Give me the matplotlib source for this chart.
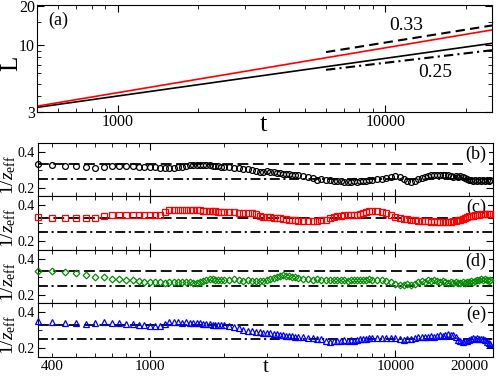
#!/usr/bin/env python3
import matplotlib
matplotlib.use("Agg")
import matplotlib.pyplot as plt
import numpy as np
from matplotlib.ticker import FixedLocator, FuncFormatter, NullFormatter

# ---- panel (a): L(t) on log-log axes
t_line = [500, 25000]
L_black = [3.26, 10.3]
L_red = [3.33, 13.1]
t_guide = [6000, 25000]
L_033 = [8.8, 14.2]
L_025 = [6.4, 9.1]

# ---- panels (b)-(e): effective exponent 1/z_eff vs t
t = np.concatenate([
    np.arange(350, 2001, 50),
    np.arange(2100, 4001, 100),
    np.arange(4200, 8001, 200),
    np.arange(8400, 24401, 400),
])

z_b = [0.330, 0.324, 0.321, 0.320, 0.315, 0.312, 0.313, 0.320, 0.321, 0.322,
       0.321, 0.318, 0.318, 0.317, 0.316, 0.312, 0.310, 0.311, 0.312, 0.314,
       0.318, 0.322, 0.326, 0.328, 0.327, 0.324, 0.325, 0.326, 0.324, 0.322,
       0.320, 0.319, 0.318, 0.317,
       0.316, 0.312, 0.307, 0.305, 0.302, 0.298, 0.293, 0.290, 0.289, 0.291,
       0.290, 0.286, 0.281, 0.279, 0.278, 0.276, 0.274, 0.272, 0.270, 0.268,
       0.265, 0.262, 0.252, 0.244, 0.247, 0.243, 0.240, 0.238, 0.236, 0.236,
       0.234, 0.233, 0.234, 0.235, 0.233, 0.236, 0.237, 0.238, 0.240, 0.242,
       0.246, 0.250, 0.255, 0.260, 0.264, 0.262, 0.250, 0.236, 0.232, 0.236,
       0.248, 0.256, 0.262, 0.266, 0.270, 0.272, 0.270, 0.273, 0.270, 0.272,
       0.268, 0.264, 0.262, 0.265, 0.262, 0.263, 0.258, 0.256, 0.250, 0.244,
       0.241, 0.238, 0.240, 0.237, 0.241, 0.238, 0.242, 0.239, 0.241, 0.238,
       0.240]

z_c = [0.334, 0.330, 0.330, 0.330, 0.330, 0.331, 0.343, 0.344, 0.345, 0.344,
       0.345, 0.345, 0.344, 0.345, 0.345, 0.348, 0.364, 0.372, 0.376, 0.376,
       0.374, 0.376, 0.373, 0.374, 0.372, 0.373, 0.370, 0.371, 0.369, 0.368,
       0.366, 0.365, 0.364, 0.363,
       0.362, 0.361, 0.360, 0.358, 0.357, 0.356, 0.352, 0.343, 0.336, 0.334,
       0.333, 0.331, 0.329, 0.327, 0.325, 0.322, 0.320, 0.318, 0.316, 0.315,
       0.313, 0.311, 0.312, 0.314, 0.316, 0.320, 0.327, 0.333, 0.340, 0.343,
       0.344, 0.345, 0.345, 0.346, 0.348, 0.352, 0.358, 0.363, 0.366, 0.368,
       0.368, 0.364, 0.356, 0.345, 0.337, 0.330, 0.325, 0.321, 0.318, 0.316,
       0.314, 0.312, 0.311, 0.310, 0.309, 0.310, 0.308, 0.307, 0.309, 0.308,
       0.307, 0.309, 0.311, 0.313, 0.316, 0.320, 0.326, 0.332, 0.337, 0.340,
       0.342, 0.343, 0.345, 0.346, 0.348, 0.349, 0.350, 0.351, 0.352, 0.352,
       0.353]

z_d = [0.334, 0.334, 0.327, 0.323, 0.312, 0.297, 0.296, 0.289, 0.286, 0.282,
       0.280, 0.276, 0.273, 0.270, 0.268, 0.268, 0.267, 0.269, 0.268, 0.270,
       0.271, 0.270, 0.268, 0.266, 0.264, 0.270, 0.278, 0.284, 0.288, 0.286,
       0.284, 0.282, 0.279, 0.281,
       0.282, 0.285, 0.280, 0.276, 0.279, 0.274, 0.277, 0.274, 0.276, 0.281,
       0.287, 0.294, 0.300, 0.305, 0.308, 0.304, 0.306, 0.300, 0.297, 0.293,
       0.290, 0.287, 0.284, 0.288, 0.283, 0.280, 0.283, 0.279, 0.282, 0.280,
       0.283, 0.278, 0.281, 0.284, 0.280, 0.282, 0.279, 0.283, 0.286, 0.282,
       0.284, 0.280, 0.276, 0.268, 0.260, 0.256, 0.254, 0.257, 0.254, 0.262,
       0.270, 0.276, 0.273, 0.279, 0.275, 0.281, 0.276, 0.272, 0.278, 0.268,
       0.264, 0.270, 0.266, 0.272, 0.267, 0.263, 0.270, 0.266, 0.272, 0.268,
       0.274, 0.270, 0.276, 0.280, 0.284, 0.286, 0.282, 0.285, 0.280, 0.276,
       0.282]

z_e = [0.352, 0.345, 0.343, 0.339, 0.336, 0.342, 0.344, 0.339, 0.339, 0.333,
       0.334, 0.330, 0.330, 0.326, 0.322, 0.321, 0.335, 0.347, 0.348, 0.345,
       0.342, 0.344, 0.341, 0.342, 0.338, 0.339, 0.336, 0.335, 0.333, 0.332,
       0.330, 0.330, 0.328, 0.327,
       0.323, 0.318, 0.311, 0.303, 0.298, 0.294, 0.291, 0.288, 0.285, 0.283,
       0.282, 0.280, 0.277, 0.274, 0.271, 0.268, 0.266, 0.265, 0.263, 0.262,
       0.260, 0.258, 0.255, 0.253, 0.250, 0.238, 0.234, 0.240, 0.242, 0.240,
       0.243, 0.241, 0.244, 0.242, 0.246, 0.249, 0.252, 0.250, 0.254, 0.256,
       0.254, 0.257, 0.255, 0.258, 0.254, 0.250, 0.247, 0.249, 0.253, 0.258,
       0.262, 0.260, 0.264, 0.262, 0.266, 0.264, 0.268, 0.272, 0.270, 0.275,
       0.278, 0.276, 0.272, 0.262, 0.248, 0.240, 0.236, 0.238, 0.242, 0.246,
       0.250, 0.254, 0.252, 0.255, 0.251, 0.253, 0.249, 0.244, 0.236, 0.228,
       0.222]

ref_levels = [0.33, 0.25]
panel_labels = ["(b)", "(c)", "(d)", "(e)"]
series = [z_b, z_c, z_d, z_e]
colors = ["black", "red", "#008c00", "blue"]
markers = ["o", "s", "D", "^"]
msizes = [4.2, 3.8, 3.4, 4.2]

plt.rcParams["font.family"] = ["Liberation Serif", "DejaVu Serif"]
plt.rcParams["mathtext.fontset"] = "custom"
plt.rcParams["mathtext.rm"] = "Liberation Serif"
plt.rcParams["mathtext.it"] = "Liberation Serif:italic"
plt.rcParams["axes.linewidth"] = 0.8

dash = (0, (6, 2.5))
dashdot = (0, (5.5, 2, 1.2, 2))

fig = plt.figure(figsize=(4.98, 3.78), dpi=100)

# ---------- top panel
ax = fig.add_axes([37 / 498, 1 - 112 / 378, 455 / 498, 107 / 378])
ax.set_xscale("log")
ax.set_yscale("log")
ax.plot(t_line, L_black, color="black", lw=1.2)
ax.plot(t_line, L_red, color="red", lw=1.2)
ax.plot(t_guide, L_033, color="black", lw=1.5, ls=(0, (4.5, 2.5)))
ax.plot(t_guide, L_025, color="black", lw=1.5, ls=(0, (4.5, 2, 1, 2)))
ax.set_xlim(500, 25000)
ax.set_ylim(3, 20.5)
ax.xaxis.set_major_locator(FixedLocator([1000, 10000]))
ax.xaxis.set_major_formatter(FuncFormatter(lambda v, p: "%d" % v))
ax.xaxis.set_minor_locator(FixedLocator([600, 700, 800, 900] + list(range(2000, 10000, 1000)) + [20000]))
ax.xaxis.set_minor_formatter(NullFormatter())
ax.yaxis.set_major_locator(FixedLocator([3, 10, 20]))
ax.yaxis.set_major_formatter(FuncFormatter(lambda v, p: "%d" % v))
ax.yaxis.set_minor_locator(FixedLocator([4, 5, 6, 7, 8, 9, 15]))
ax.yaxis.set_minor_formatter(NullFormatter())
ax.tick_params(which="both", direction="in", top=True, right=True, labelsize=11.5, pad=1.5)
ax.tick_params(which="major", length=5)
ax.tick_params(which="minor", length=3)
ax.set_ylabel("L", fontsize=18)
ax.yaxis.set_label_coords(-0.032, 0.45)
ax.set_xlabel("t", fontsize=19)
ax.xaxis.set_label_coords(0.497, -0.02)
ax.text(0.046, 0.86, "(a)", transform=ax.transAxes, fontsize=13, ha="center", va="center")
ax.text(12000, 14.3, "0.33", fontsize=14, ha="center", va="center")
ax.text(15300, 6.05, "0.25", fontsize=14, ha="center", va="center")

# ---------- lower panels
h = 53.5 / 378
bottoms = [0.0556 + 3 * h, 0.0556 + 2 * h, 0.0556 + h, 0.0556]
axes = []
for i in range(4):
    a = fig.add_axes([38 / 498, bottoms[i], 455 / 498, h])
    a.set_xscale("log")
    a.axhline(ref_levels[0], color="black", lw=1.3, ls=dash, zorder=1)
    a.axhline(ref_levels[1], color="black", lw=1.3, ls=dashdot, zorder=1)
    a.plot(t, series[i], ls="none", marker=markers[i], ms=msizes[i],
           mfc="none", mec=colors[i], mew=0.9, zorder=3, clip_on=False)
    a.set_xlim(350, 25000)
    a.set_ylim(0.15, 0.45)
    a.yaxis.set_major_locator(FixedLocator([0.2, 0.4]))
    a.yaxis.set_minor_locator(FixedLocator([0.3]))
    a.xaxis.set_major_locator(FixedLocator([1000, 10000]))
    a.xaxis.set_minor_locator(FixedLocator([400, 500, 600, 700, 800, 900]
                                           + list(range(2000, 10000, 1000)) + [20000]))
    a.xaxis.set_major_formatter(FuncFormatter(lambda v, p: "%d" % v))
    a.xaxis.set_minor_formatter(FuncFormatter(lambda v, p: "%d" % v if v in (400, 20000) else ""))
    a.tick_params(which="both", direction="in", top=True, right=True, labelsize=11, pad=2.5)
    a.tick_params(axis="y", which="both", labelsize=10, pad=2)
    a.tick_params(which="major", length=5)
    a.tick_params(which="minor", length=3)
    if i < 3:
        a.tick_params(which="both", labelbottom=False)
    a.set_ylabel(r"$1/z_{\rm eff}$", fontsize=14)
    a.yaxis.set_label_coords(-0.043, 0.41)
    a.text(0.963, 0.79, panel_labels[i], transform=a.transAxes, fontsize=13,
           ha="center", va="center", zorder=2,
           bbox=dict(facecolor="white", edgecolor="none", pad=1.5))
    axes.append(a)

axes[-1].set_xlabel("t", fontsize=15, labelpad=-11)

fig.savefig("out.png", dpi=100)
